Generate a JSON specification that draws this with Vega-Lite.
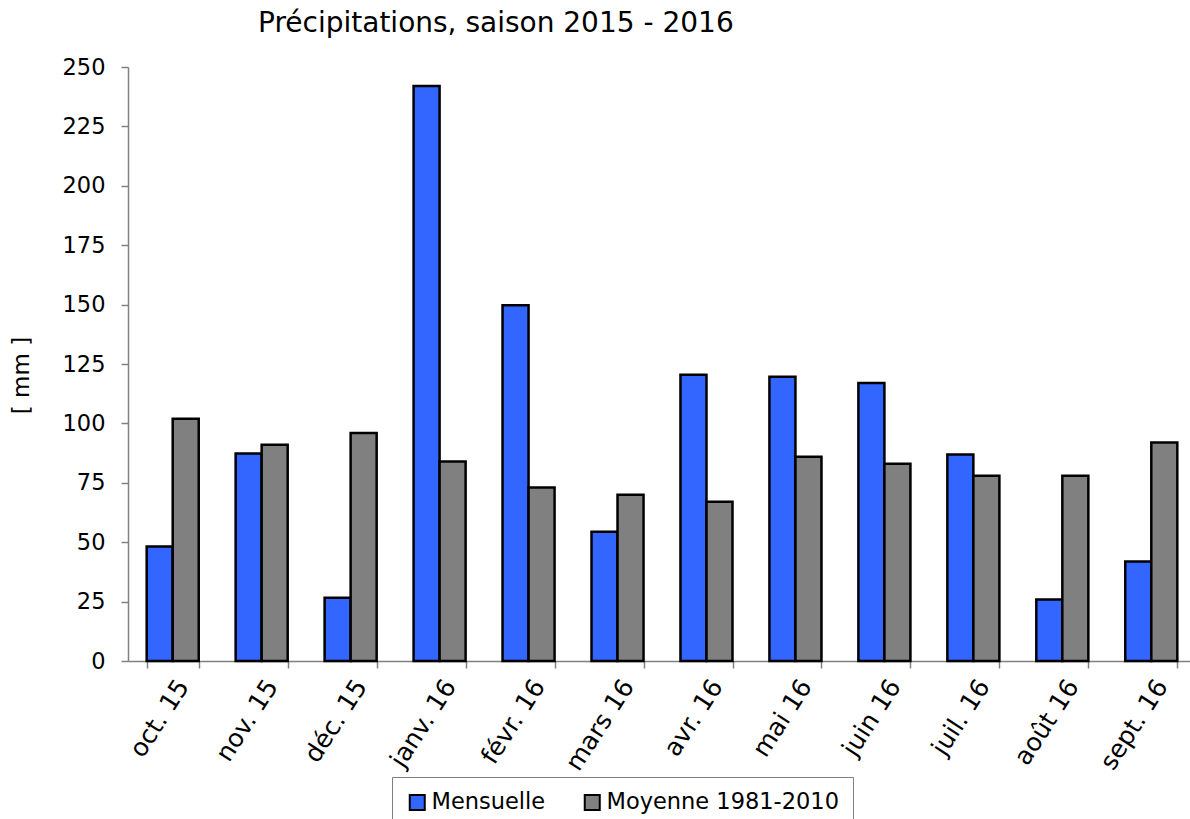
{
  "$schema": "https://vega.github.io/schema/vega-lite/v6.json",
  "autosize": {"type": "none"},
  "width": 1062,
  "height": 594,
  "padding": {"left": 128, "top": 67, "right": 0, "bottom": 158},
  "background": "white",
  "config": {
    "font": "DejaVu Sans",
    "view": {"stroke": null}
  },
  "title": {
    "text": "Précipitations, saison 2015 - 2016",
    "anchor": "start",
    "frame": "group",
    "dx": 130,
    "offset": 18,
    "fontSize": 28,
    "fontWeight": "normal",
    "font": "DejaVu Sans",
    "color": "black"
  },
  "data": {
    "values": [
      {"mois": "oct. 15", "serie": "Mensuelle", "mm": 48.2},
      {"mois": "oct. 15", "serie": "Moyenne 1981-2010", "mm": 102},
      {"mois": "nov. 15", "serie": "Mensuelle", "mm": 87.3},
      {"mois": "nov. 15", "serie": "Moyenne 1981-2010", "mm": 91},
      {"mois": "déc. 15", "serie": "Mensuelle", "mm": 26.6},
      {"mois": "déc. 15", "serie": "Moyenne 1981-2010", "mm": 96},
      {"mois": "janv. 16", "serie": "Mensuelle", "mm": 242},
      {"mois": "janv. 16", "serie": "Moyenne 1981-2010", "mm": 84},
      {"mois": "févr. 16", "serie": "Mensuelle", "mm": 149.7},
      {"mois": "févr. 16", "serie": "Moyenne 1981-2010", "mm": 73},
      {"mois": "mars 16", "serie": "Mensuelle", "mm": 54.4},
      {"mois": "mars 16", "serie": "Moyenne 1981-2010", "mm": 70},
      {"mois": "avr. 16", "serie": "Mensuelle", "mm": 120.5},
      {"mois": "avr. 16", "serie": "Moyenne 1981-2010", "mm": 67},
      {"mois": "mai 16", "serie": "Mensuelle", "mm": 119.6},
      {"mois": "mai 16", "serie": "Moyenne 1981-2010", "mm": 86},
      {"mois": "juin 16", "serie": "Mensuelle", "mm": 117},
      {"mois": "juin 16", "serie": "Moyenne 1981-2010", "mm": 83},
      {"mois": "juil. 16", "serie": "Mensuelle", "mm": 86.9},
      {"mois": "juil. 16", "serie": "Moyenne 1981-2010", "mm": 78},
      {"mois": "août 16", "serie": "Mensuelle", "mm": 25.9},
      {"mois": "août 16", "serie": "Moyenne 1981-2010", "mm": 78},
      {"mois": "sept. 16", "serie": "Mensuelle", "mm": 41.9},
      {"mois": "sept. 16", "serie": "Moyenne 1981-2010", "mm": 92}
    ]
  },
  "mark": {"type": "bar", "stroke": "black", "strokeWidth": 2.5},
  "encoding": {
    "x": {
      "field": "mois",
      "type": "nominal",
      "sort": null,
      "scale": {"paddingInner": 0.415, "paddingOuter": 0.21, "range": [0, 1068]},
      "axis": {
        "title": null,
        "labelAngle": -57,
        "labelAlign": "right",
        "labelBaseline": "top",
        "labelFontSize": 25,
        "labelColor": "black",
        "labelPadding": 7,
        "tickBand": "extent",
        "tickSize": 7,
        "tickColor": "#808080",
        "domainColor": "#808080",
        "domainWidth": 1.5,
        "tickWidth": 1.5
      }
    },
    "xOffset": {"field": "serie", "type": "nominal", "scale": {"paddingInner": 0, "paddingOuter": 0}},
    "y": {
      "field": "mm",
      "type": "quantitative",
      "scale": {"domain": [0, 250], "nice": false},
      "axis": {
        "title": "[ mm ]",
        "titleFontSize": 23,
        "titleFontWeight": "normal",
        "titleColor": "black",
        "titlePadding": 29,
        "titleY": 308,
        "values": [0, 25, 50, 75, 100, 125, 150, 175, 200, 225, 250],
        "labelFontSize": 22.5,
        "labelColor": "black",
        "labelPadding": 16,
        "tickSize": 7,
        "tickColor": "#808080",
        "domainColor": "#808080",
        "domainWidth": 1.5,
        "tickWidth": 1.5,
        "grid": false
      }
    },
    "color": {
      "field": "serie",
      "type": "nominal",
      "scale": {"domain": ["Mensuelle", "Moyenne 1981-2010"], "range": ["#3366FF", "#808080"]},
      "legend": {
        "title": null,
        "orient": "none",
        "legendX": 264,
        "legendY": 710,
        "direction": "horizontal",
        "symbolType": "square",
        "symbolSize": 225,
        "symbolStrokeColor": "black",
        "symbolStrokeWidth": 2,
        "symbolOpacity": 1,
        "labelFontSize": 22.5,
        "labelColor": "black",
        "labelOffset": 3,
        "labelLimit": 400,
        "columnPadding": 34,
        "padding": 14,
        "strokeColor": "#808080",
        "fillColor": "white"
      }
    }
  }
}
